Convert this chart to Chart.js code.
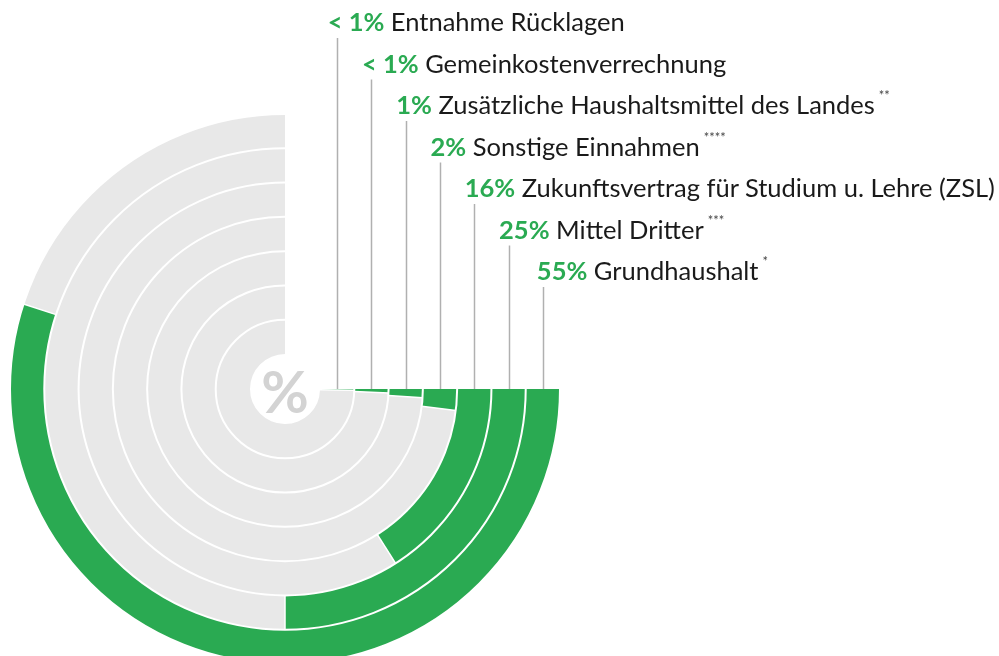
<!DOCTYPE html>
<html><head><meta charset="utf-8">
<script src="https://cdn.jsdelivr.net/npm/chart.js@4"></script>
<style>
html,body{margin:0;padding:0;background:#fff;overflow:hidden;width:999px;height:656px;}
#wrap{position:absolute;left:0;top:0;width:999px;height:700px;}
.lbl{position:absolute;white-space:nowrap;font-family:Lato,sans-serif;font-size:25.5px;color:#1a1a1a;line-height:1;transform:translateY(-50%);}
.lbl b{color:#2aaa52;font-weight:700;}
.lbl sup{font-size:13px;vertical-align:top;position:relative;top:-3px;margin-left:4px;color:#444;}
#pct{position:absolute;font-family:Lato,sans-serif;font-weight:700;font-size:58px;color:#d3d3d3;transform:translate(-50%,-50%);line-height:1;}
</style></head><body>
<div id="wrap"><canvas id="c"></canvas></div>
<div id="pct">%</div>
<div id="labels"></div>
<script>
// data, outermost ring first
const categories = ['Grundhaushalt','Mittel Dritter','Zukunftsvertrag für Studium u. Lehre (ZSL)','Sonstige Einnahmen','Zusätzliche Haushaltsmittel des Landes','Gemeinkostenverrechnung','Entnahme Rücklagen'];
const shares = [55, 25, 16, 2, 1, 0.6, 0.3];
const shareLabels = ['55%','25%','16%','2%','1%','< 1%','< 1%'];
const footnotes = ['*','***','','****','**','',''];
const trackMax = 75; // each track spans 3/4 of a full circle (100%)

const GREEN = '#2aaa52', GRAY = '#e8e8e8', LINE = '#b0b0b0';
const ROW0 = 22, ROWGAP = 41.5;

const separators = {
  id: 'separators',
  afterDatasetsDraw(chart) {
    const ctx = chart.ctx;
    ctx.save();
    const n = chart.data.datasets.length;
    chart.data.datasets.forEach((ds, i) => {
      const meta = chart.getDatasetMeta(i);
      const g = meta.data[0], t = meta.data[1];
      ctx.strokeStyle = '#fff';
      // ring separator
      ctx.lineWidth = 2;
      ctx.beginPath();
      ctx.arc(g.x, g.y, g.outerRadius, g.startAngle, t.endAngle);
      ctx.stroke();
      // share / track separator
      ctx.lineWidth = 1.5;
      const a = g.endAngle;
      ctx.beginPath();
      ctx.moveTo(g.x + Math.cos(a) * g.innerRadius, g.y + Math.sin(a) * g.innerRadius);
      ctx.lineTo(g.x + Math.cos(a) * g.outerRadius, g.y + Math.sin(a) * g.outerRadius);
      ctx.stroke();
      // leader line
      const row = n - 1 - i;
      const mid = (g.innerRadius + g.outerRadius) / 2;
      const lx = Math.round(g.x + mid) + 0.5;
      ctx.strokeStyle = LINE;
      ctx.lineWidth = 1.5;
      ctx.beginPath();
      ctx.moveTo(lx, g.y);
      ctx.lineTo(lx, ROW0 + row * ROWGAP + 16);
      ctx.stroke();
    });
    ctx.restore();
  }
};

const chart = new Chart(document.getElementById('c'), {
  type: 'doughnut',
  data: {
    labels: ['Anteil', 'Rest', ''],
    datasets: shares.map((v, i) => ({
      label: categories[i],
      data: [v, trackMax - v, 100 - trackMax],
      backgroundColor: [GREEN, GRAY, 'rgba(0,0,0,0)'],
      borderWidth: 0,
      hoverOffset: 0
    }))
  },
  options: {
    responsive: true,
    maintainAspectRatio: false,
    animation: false,
    rotation: 90,
    circumference: 360,
    cutout: '12.73%',
    layout: { padding: { left: 10, top: 114, right: 439, bottom: 36 } },
    events: [],
    plugins: { legend: { display: false }, tooltip: { enabled: false } }
  },
  plugins: [separators]
});

// place labels and centre symbol from the chart geometry
const holder = document.getElementById('labels');
const n = shares.length;
shares.forEach((v, i) => {
  const g = chart.getDatasetMeta(i).data[0];
  const mid = (g.innerRadius + g.outerRadius) / 2;
  const row = n - 1 - i;
  const d = document.createElement('div');
  d.className = 'lbl';
  d.style.left = (g.x + mid - (i === 0 ? 6 : 9.5)) + 'px';
  d.style.top = (ROW0 + row * ROWGAP) + 'px';
  const b = document.createElement('b');
  b.textContent = shareLabels[i];
  d.appendChild(b);
  d.appendChild(document.createTextNode(' ' + categories[i]));
  if (footnotes[i]) {
    const s = document.createElement('sup');
    s.textContent = footnotes[i];
    d.appendChild(s);
  }
  holder.appendChild(d);
});
const g0 = chart.getDatasetMeta(0).data[0];
const pc = document.getElementById('pct');
pc.style.left = g0.x + 'px';
pc.style.top = (g0.y + 2) + 'px';
</script>
</body></html>
